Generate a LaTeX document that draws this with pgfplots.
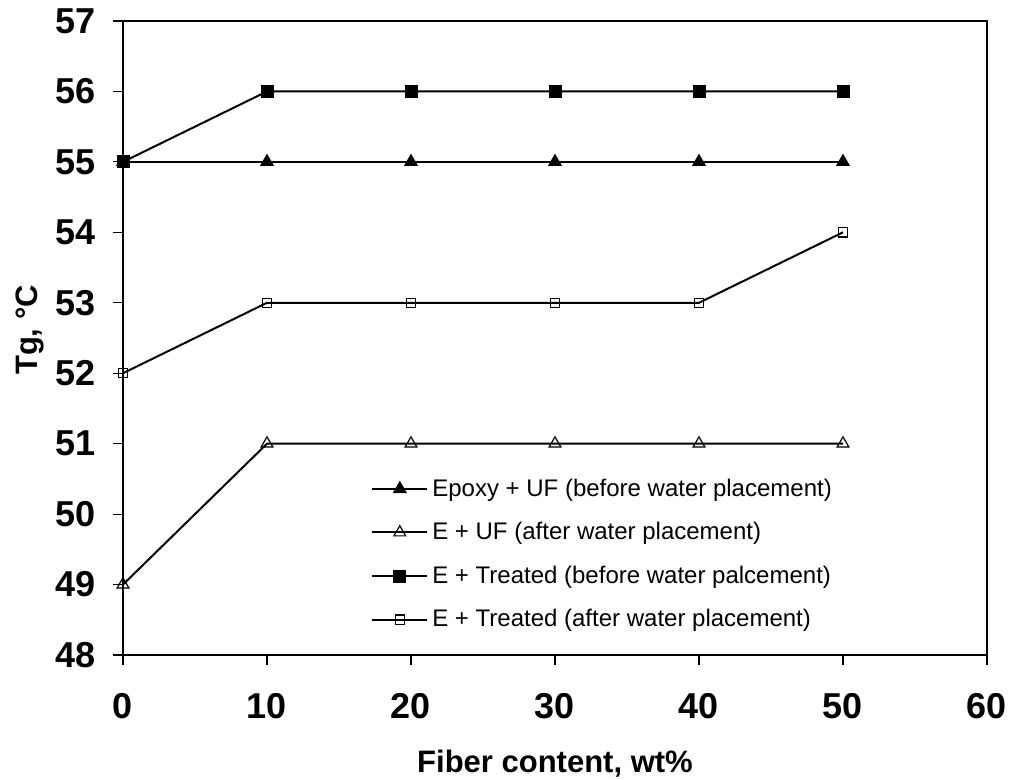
\documentclass[border=0pt]{standalone}
\usepackage{fontspec}
\setmainfont{Liberation Sans}
\usepackage{pgfplots}
\pgfplotsset{compat=1.18}
\begin{document}
\begin{tikzpicture}
\begin{axis}[
  scale only axis,
  width=432pt, height=317pt,
  xmin=0, xmax=60, ymin=48, ymax=57,
  xtick={0,10,...,60}, ytick={48,49,...,57},
  tick align=outside, tick pos=left,
  major tick length=5pt,
  every tick/.style={black, line width=0.6pt},
  axis line style={line width=0.8pt},
  /pgf/number format/assume math mode=true,
  ticklabel style={font=\bfseries\fontsize{18}{21}\selectfont},
  xticklabel style={yshift=-10.5pt},
  yticklabel style={xshift=-5pt},
  xlabel={Fiber content, wt\%},
  ylabel={Tg, °C},
  label style={font=\bfseries\fontsize{15.5}{18}\selectfont},
  xlabel style={yshift=-9pt},
  ylabel style={yshift=-1pt, xshift=4pt},
  legend style={at={(0.280,0.285)}, anchor=north west, draw=none, fill=none,
    font=\fontsize{12}{14.5}\selectfont, row sep=11.6pt,
    nodes={inner xsep=2pt, inner ysep=0pt}},
  legend cell align=left,
  legend image code/.code={\draw[mark repeat=2,mark phase=2] plot coordinates {(0pt,0pt)(13.75pt,0pt)(27.5pt,0pt)};},
  every axis plot/.append style={black, line width=1pt},
]
\addplot[mark=triangle*, mark size=3.6pt, mark options={solid, fill=black, line width=0.5pt}] coordinates {(0,55)(10,55)(20,55)(30,55)(40,55)(50,55)};
\addlegendentry{Epoxy + UF (before water placement)}
\addplot[mark=triangle, mark size=3.4pt, mark options={solid, fill=white, line width=0.6pt}] coordinates {(0,49)(10,51)(20,51)(30,51)(40,51)(50,51)};
\addlegendentry{E + UF (after water placement)}
\addplot[mark=square*, mark size=3pt, mark options={solid, fill=black, line width=0.5pt}] coordinates {(0,55)(10,56)(20,56)(30,56)(40,56)(50,56)};
\addlegendentry{E + Treated (before water palcement)}
\addplot[mark=square, mark size=2.3pt, mark options={solid, fill=white, line width=0.6pt}] coordinates {(0,52)(10,53)(20,53)(30,53)(40,53)(50,54)};
\addlegendentry{E + Treated (after water placement)}
\coordinate (O) at (rel axis cs:0,0);
\end{axis}
\pgfresetboundingbox
\path ([shift={(-61.5pt,-62.5pt)}]O) rectangle ++(505pt,390pt);
\end{tikzpicture}
\end{document}
